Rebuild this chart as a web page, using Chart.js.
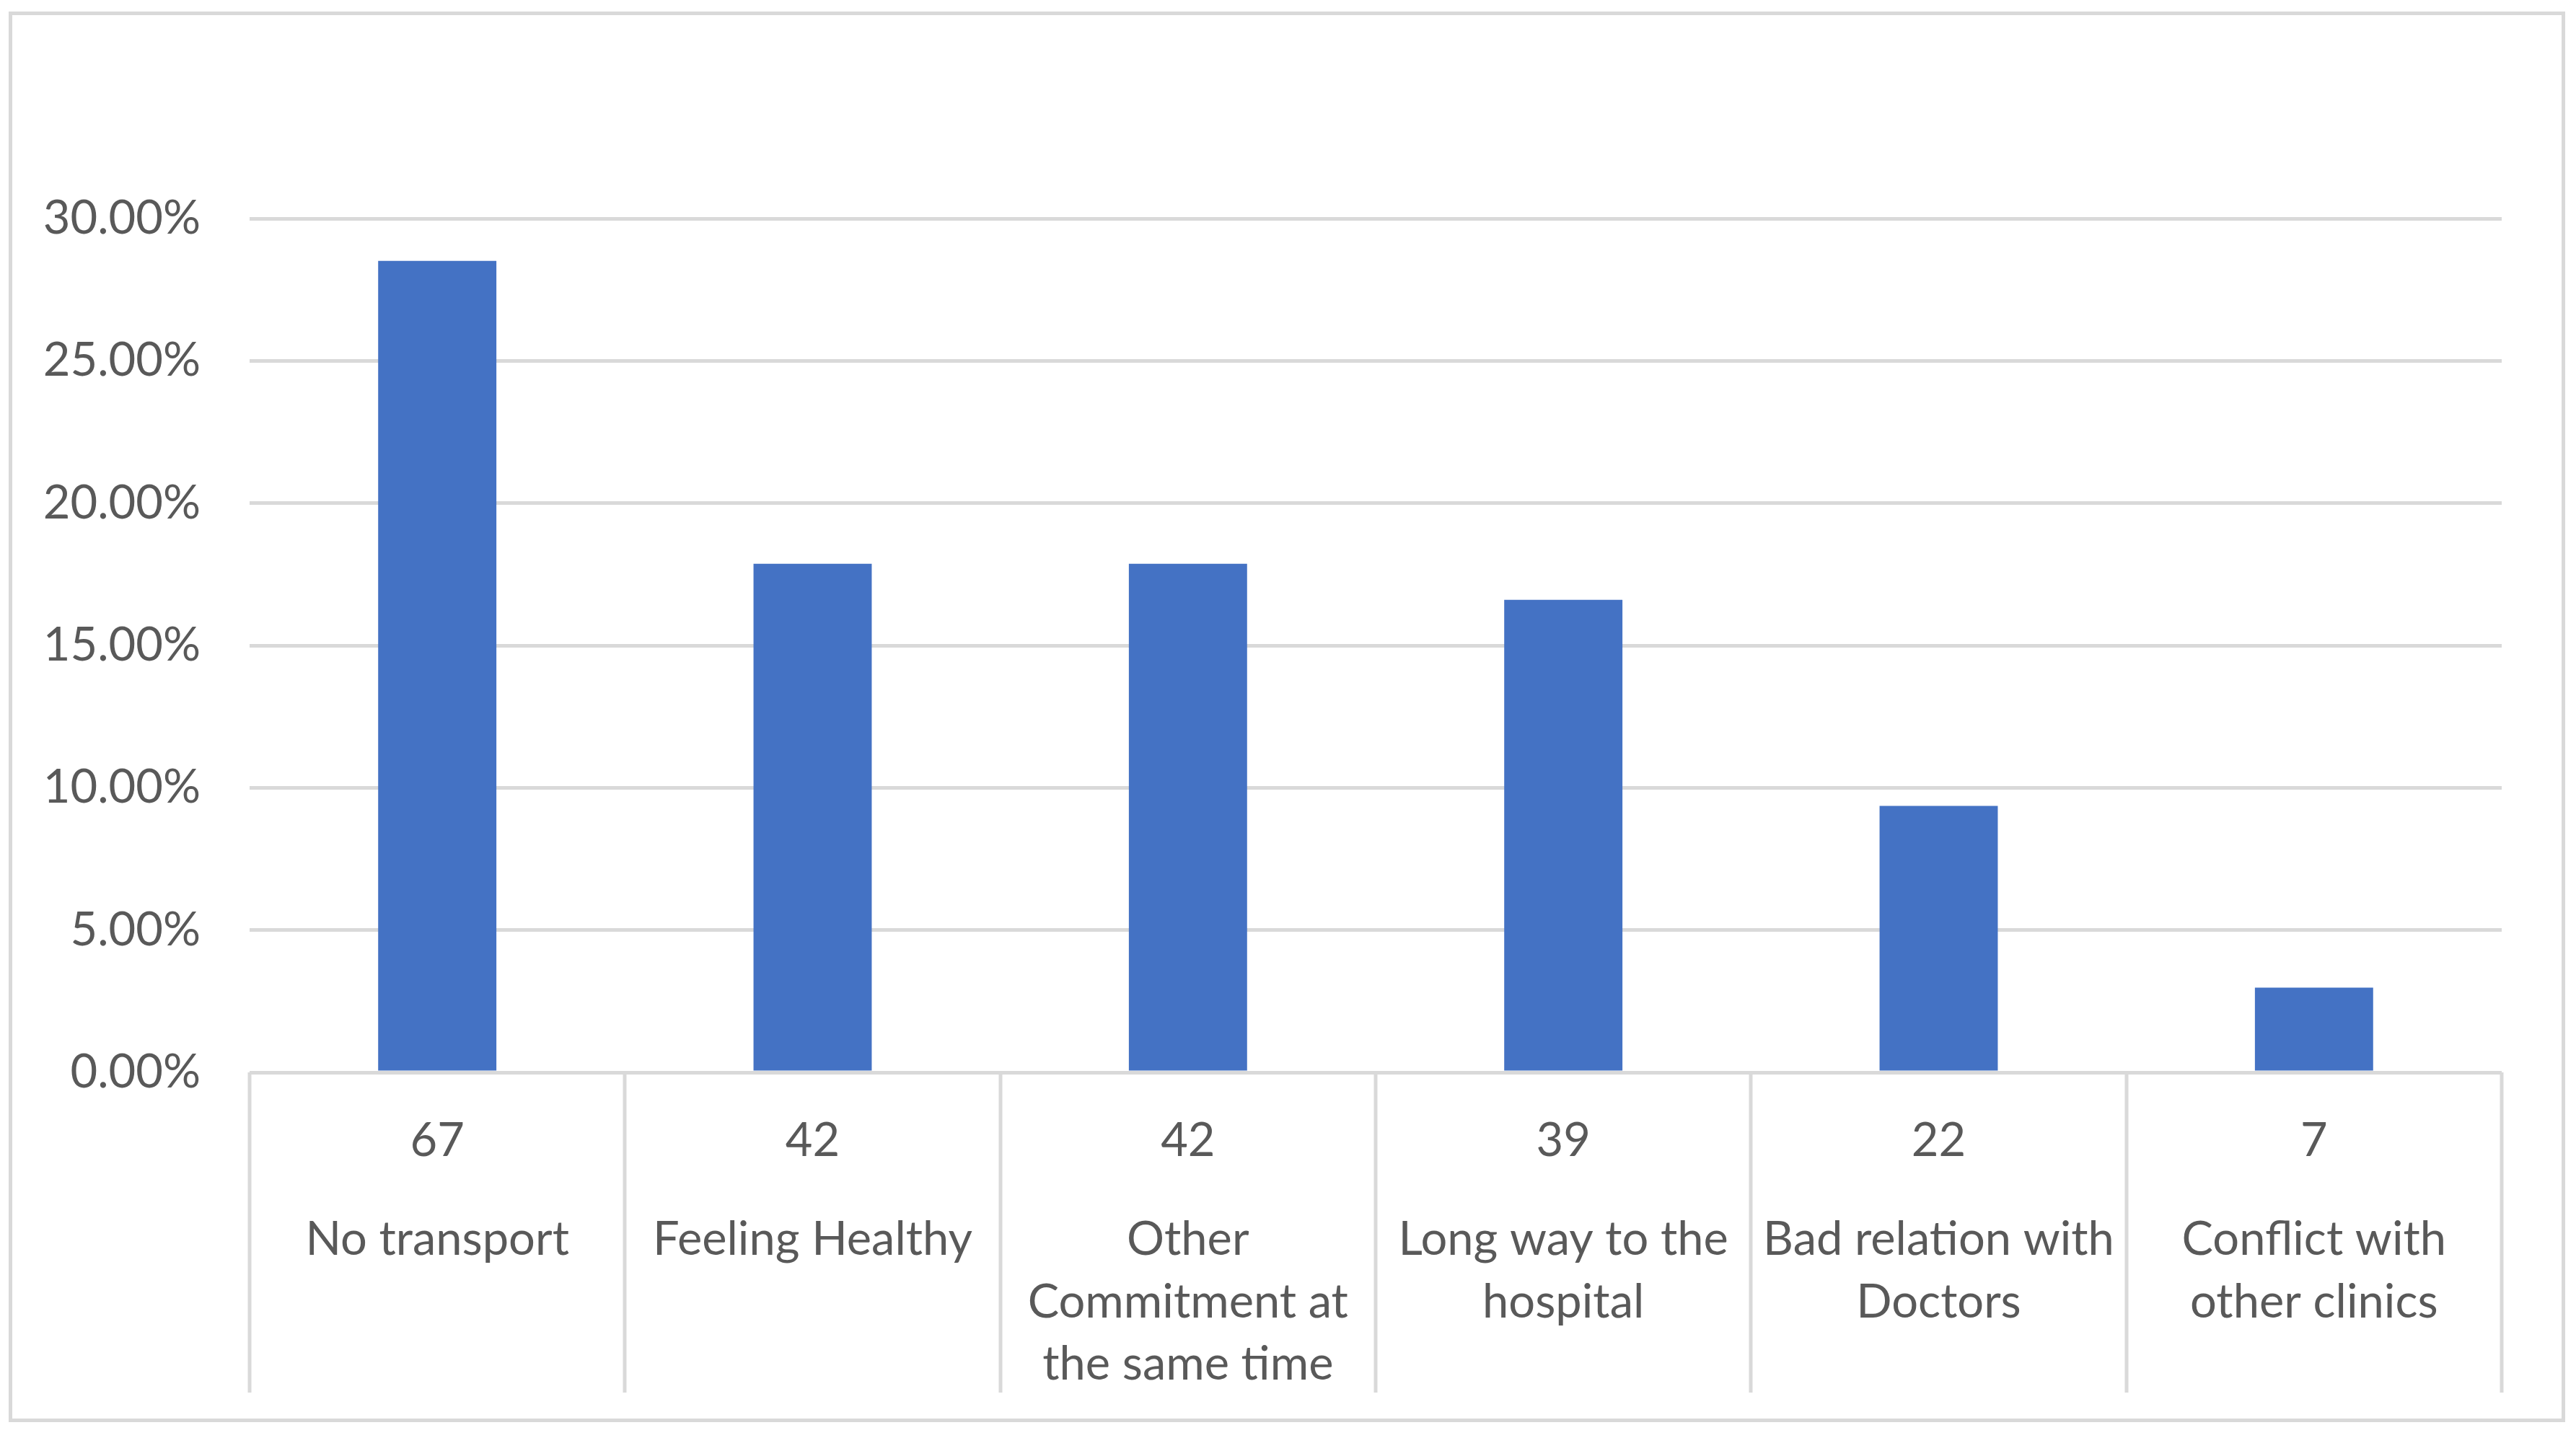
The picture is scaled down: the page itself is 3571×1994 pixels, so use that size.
<!DOCTYPE html>
<html>
<head>
<meta charset="utf-8">
<script src="https://cdn.jsdelivr.net/npm/chart.js@4.4.0/dist/chart.umd.min.js"></script>
<style>
  html, body { margin: 0; padding: 0; background: #fff; }
  #wrap { position: relative; width: 3571px; height: 1994px; }
  #frame {
    position: absolute; left: 12px; top: 16px;
    width: 3544px; height: 1956px;
    border: 5px solid #d9d9d9; box-sizing: border-box;
  }
  #chart { position: absolute; left: 0; top: 0; }
</style>
</head>
<body>
<div id="wrap">
  <div id="frame"></div>
  <canvas id="chart" width="3571" height="1994"></canvas>
</div>
<script>
  // 数据
  const counts = ['67', '42', '42', '39', '22', '7'];
  const reasons = [
    'No transport',
    'Feeling Healthy',
    ['Other', 'Commitment at', 'the same time'],
    ['Long way to the', 'hospital'],
    ['Bad relation with', 'Doctors'],
    ['Conflict with', 'other clinics']
  ];
  const percentValues = [28.51, 17.87, 17.87, 16.60, 9.36, 2.98];

  const TEXT = '#595959';
  const GRID = '#d9d9d9';
  const BAR = '#4472c4';
  const FONT = { family: 'Lato', size: 65, lineHeight: 1.33 };

  // 分类表格的竖线
  const tableLines = {
    id: 'tableLines',
    afterDraw: function (chart) {
      const x = chart.scales.x;
      const names = chart.scales.names;
      const ctx = chart.ctx;
      const step = (x.right - x.left) / counts.length;
      ctx.save();
      ctx.strokeStyle = GRID;
      ctx.lineWidth = 5;
      for (let i = 0; i <= counts.length; i++) {
        const px = Math.round(x.left + i * step);
        ctx.beginPath();
        ctx.moveTo(px, chart.chartArea.bottom);
        ctx.lineTo(px, names.bottom);
        ctx.stroke();
      }
      ctx.restore();
    }
  };

  new Chart(document.getElementById('chart').getContext('2d'), {
    type: 'bar',
    data: {
      labels: counts,
      datasets: [
        {
          data: percentValues,
          backgroundColor: BAR,
          borderWidth: 0,
          barPercentage: 0.315,
          categoryPercentage: 1
        }
      ]
    },
    options: {
      responsive: false,
      animation: false,
      devicePixelRatio: 1,
      layout: { padding: { top: 303, right: 103, bottom: 63, left: 0 } },
      plugins: { legend: { display: false }, tooltip: { enabled: false } },
      scales: {
        x: {
          weight: 0,
          grid: { display: false },
          border: { display: false },
          ticks: { color: TEXT, font: FONT, padding: 44, maxRotation: 0, autoSkip: false },
          afterFit: function (s) { s.height = 133; }
        },
        names: {
          type: 'category',
          position: 'bottom',
          weight: 1,
          labels: reasons,
          offset: true,
          grid: { display: false },
          border: { display: false },
          ticks: { color: TEXT, font: FONT, padding: 48, maxRotation: 0, autoSkip: false },
          afterFit: function (s) { s.height = 311; }
        },
        y: {
          min: 0,
          max: 30,
          grid: { color: GRID, lineWidth: 5, drawTicks: false },
          border: { display: false },
          ticks: {
            stepSize: 5,
            color: TEXT,
            font: FONT,
            padding: 68,
            callback: function (v) { return v.toFixed(2) + '%'; }
          },
          afterFit: function (s) { s.width = 346; }
        }
      }
    },
    plugins: [tableLines]
  });
</script>
</body>
</html>
